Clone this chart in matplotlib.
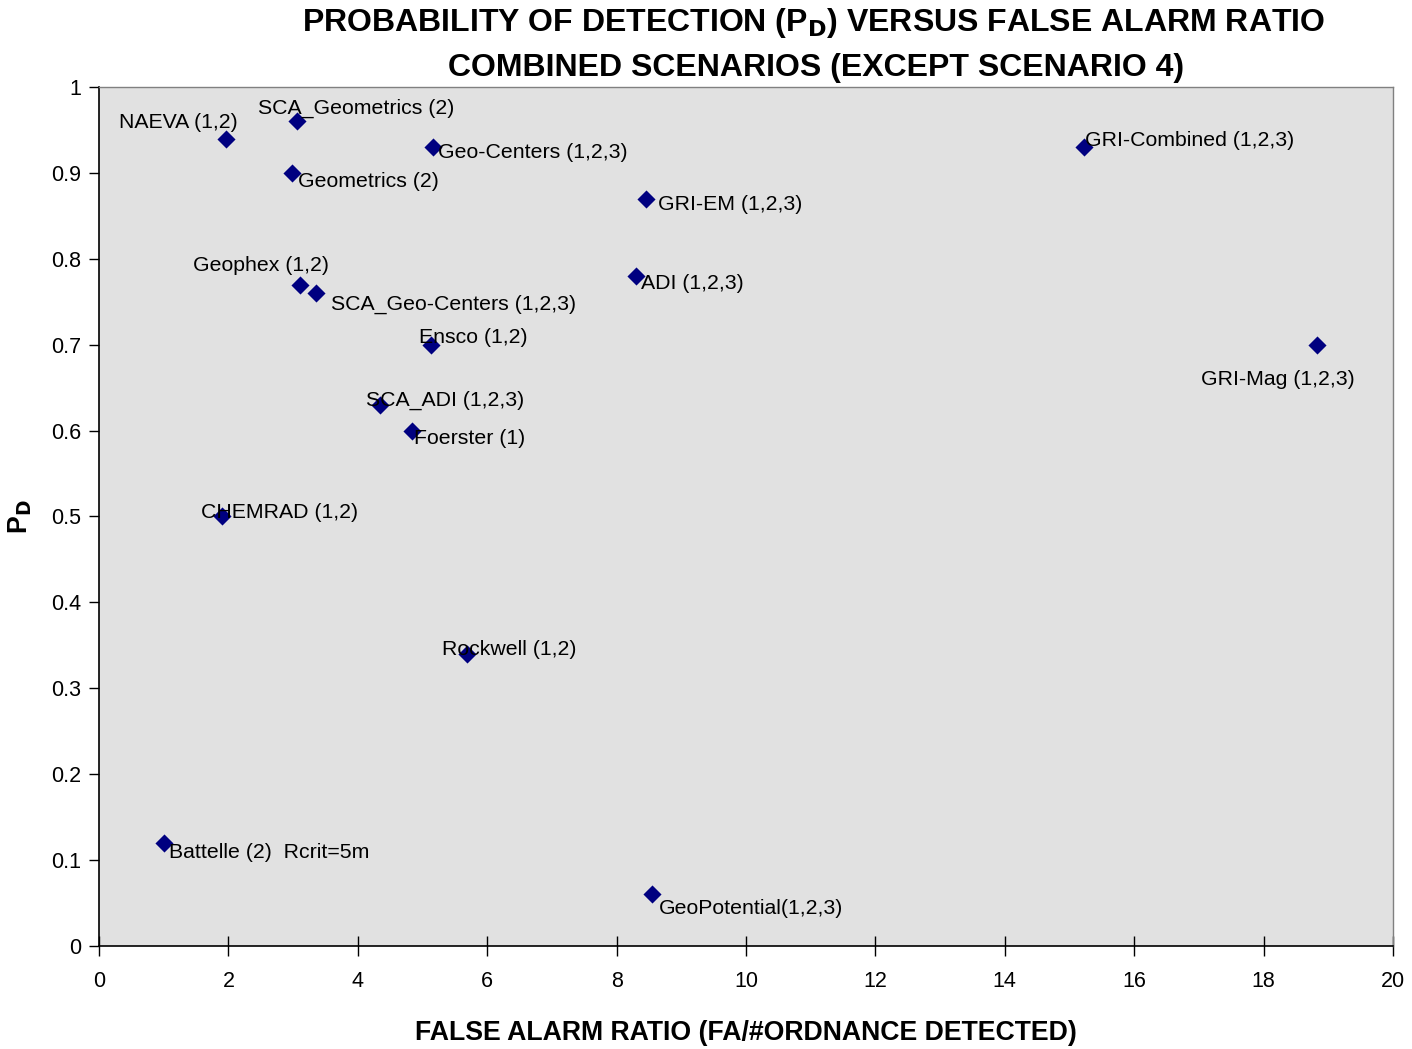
import matplotlib
matplotlib.use("Agg")
import matplotlib.pyplot as plt

# data
names = [
    "Battelle (2)  Rcrit=5m", "NAEVA (1,2)", "SCA_Geometrics (2)", "Geometrics (2)",
    "Geo-Centers (1,2,3)", "GRI-EM (1,2,3)", "GRI-Combined (1,2,3)", "Geophex (1,2)",
    "SCA_Geo-Centers (1,2,3)", "ADI (1,2,3)", "Ensco (1,2)", "GRI-Mag (1,2,3)",
    "SCA_ADI (1,2,3)", "Foerster (1)", "CHEMRAD (1,2)", "Rockwell (1,2)",
    "GeoPotential(1,2,3)",
]
far = [1.0, 1.96, 3.06, 2.98, 5.16, 8.45, 15.22, 3.11, 3.35, 8.30, 5.13, 18.83,
       4.34, 4.84, 1.90, 5.69, 8.55]
pd_vals = [0.12, 0.94, 0.96, 0.90, 0.93, 0.87, 0.93, 0.77, 0.76, 0.78, 0.70, 0.70,
           0.63, 0.60, 0.50, 0.34, 0.06]

# label placement (pixel offsets from marker)
offsets = [(5, -10), (12, 16), (-39, 13), (6, -9), (5, -5), (12, -6), (1, 7),
           (-107, 19), (15, -11), (5, -8), (-12, 7), (-116, -35), (-14, 4),
           (2, -8), (-21, 4), (-25, 4), (7, -14)]
aligns = ["left", "right", "left", "left", "left", "left", "left", "left", "left",
          "left", "left", "left", "left", "left", "left", "left", "left"]

plt.rcParams["font.family"] = ["Liberation Sans", "DejaVu Sans"]

fig = plt.figure(figsize=(14.12, 10.49), dpi=100)
ax = fig.add_axes([0.0701, 0.0982, 0.9164, 0.8189])
ax.set_facecolor("#e1e1e1")

ax.scatter(far, pd_vals, marker="D", s=85, color="#000080", zorder=3, linewidths=0)

for name, x, y, off, ha in zip(names, far, pd_vals, offsets, aligns):
    ax.annotate(name, (x, y), xytext=off, textcoords="offset pixels",
                ha=ha, va="center", fontsize=15.3, color="black", zorder=4)

ax.set_xlim(0, 20)
ax.set_ylim(0, 1)
ax.set_xticks(range(0, 21, 2))
ax.set_yticks([i / 10 for i in range(11)])
ax.set_yticklabels(["0"] + [f"{i / 10:g}" for i in range(1, 10)] + ["1"])
ax.tick_params(axis="y", direction="out", length=7, width=1, labelsize=15.5, pad=6)
ax.tick_params(axis="x", direction="inout", length=14, width=1, labelsize=15.5, pad=11)

for side in ["left", "bottom"]:
    ax.spines[side].set_color("black")
    ax.spines[side].set_linewidth(1.2)
for side in ["top", "right"]:
    ax.spines[side].set_color("#808080")
    ax.spines[side].set_linewidth(1)

ax.set_xlabel("FALSE ALARM RATIO (FA/#ORDNANCE DETECTED)", fontsize=19.2,
              fontweight="bold", labelpad=20)
ax.set_ylabel(r"P$_\mathbf{D}$", fontsize=19.2, fontweight="bold", labelpad=12)

fig.text(0.576, 0.978, r"PROBABILITY OF DETECTION (P$_\mathbf{D}$) VERSUS FALSE ALARM RATIO",
         ha="center", va="center", fontsize=23, fontweight="bold")
fig.text(0.578, 0.935, "COMBINED SCENARIOS (EXCEPT SCENARIO 4)",
         ha="center", va="center", fontsize=23, fontweight="bold")

fig.savefig("out.png", dpi=100)
